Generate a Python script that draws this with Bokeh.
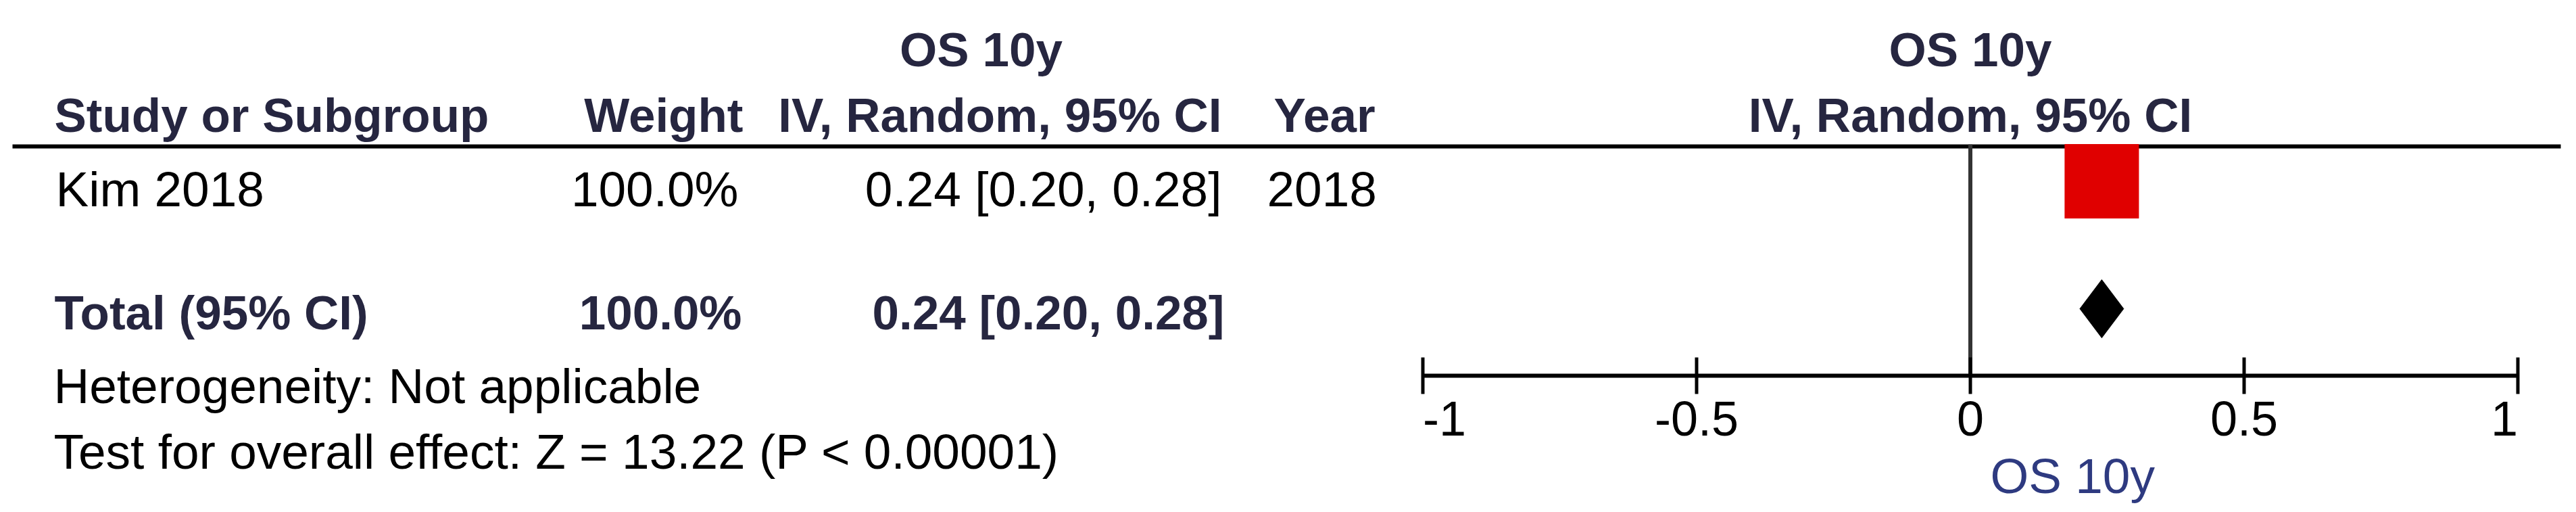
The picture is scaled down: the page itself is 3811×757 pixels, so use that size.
from bokeh.plotting import figure
from bokeh.models import Range1d
from bokeh.core.properties import value
from bokeh.embed import file_html
from bokeh.resources import INLINE

# ---------------- data ----------------
outcome = "OS 10y"
method = "IV, Random, 95% CI"
col_study = "Study or Subgroup"
col_weight = "Weight"
col_year = "Year"

studies = ["Kim 2018"]
weights = ["100.0%"]
est = [0.24]
ci_lo = [0.20]
ci_hi = [0.28]
ci_text = ["0.24 [0.20, 0.28]"]
years = ["2018"]

total_label = "Total (95% CI)"
total_weight = "100.0%"
total_est = 0.24
total_lo = 0.20
total_hi = 0.28
total_text = "0.24 [0.20, 0.28]"

heterogeneity = "Heterogeneity: Not applicable"
overall_effect = "Test for overall effect: Z = 13.22 (P < 0.00001)"

tick_values = [-1, -0.5, 0, 0.5, 1]
tick_labels = ["-1", "-0.5", "0", "0.5", "1"]

# ---------------- layout / style ----------------
FONT = "Liberation Sans"
REG = "73px"
BOLD = "71px"
HEAD_COLOR = "#262640"
TITLE_COLOR = "#2e3a80"
DY = -25  # baseline correction for text rendering

W, H = 3800, 750
px_zero = 2914.5      # screen x of effect 0
px_per_unit = 810.0   # pixels per effect unit
AXIS_Y = 555

p = figure(width=W, height=H, output_backend="svg", toolbar_location=None,
           x_axis_location=None, y_axis_location=None,
           x_range=Range1d(0, W), y_range=Range1d(H, 0),
           min_border_left=0, min_border_right=0, min_border_top=0,
           min_border_bottom=0, outline_line_color=None,
           background_fill_color="white", border_fill_color="white")
p.grid.visible = False
p.extra_x_ranges = {"es": Range1d((0 - px_zero) / px_per_unit,
                                  (W - px_zero) / px_per_unit)}

def txt(xs, ys, texts, align, bold=False, color="black", rng="default", size=None):
    p.text(x=xs, y=[y + DY for y in ys], text=texts, x_range_name=rng,
           text_align=align, text_baseline="alphabetic",
           text_font=value(FONT),
           text_font_size=value(size or (BOLD if bold else REG)),
           text_font_style="bold" if bold else "normal", text_color=color)

# headers
txt([1451], [98], [outcome], "center", True, HEAD_COLOR)
txt([0], [98], [outcome], "center", True, HEAD_COLOR, "es")
txt([80], [195], [col_study], "left", True, HEAD_COLOR)
txt([1099], [195], [col_weight], "right", True, HEAD_COLOR)
txt([1807], [195], [method], "right", True, HEAD_COLOR)
txt([1884], [195], [col_year], "left", True, HEAD_COLOR)
txt([0], [195], [method], "center", True, HEAD_COLOR, "es")

# header rule
p.segment(x0=[18], x1=[3788], y0=[216], y1=[216], line_width=6, line_color="black")

# zero line
p.segment(x0=[0], x1=[0], y0=[213], y1=[AXIS_Y], x_range_name="es",
          line_width=6, line_color="#333333")

# study rows
row_y = [267.5]
text_y = [304]
txt([82] * len(studies), text_y, studies, "left")
txt([1092] * len(studies), text_y, weights, "right")
txt([1807] * len(studies), text_y, ci_text, "right")
txt([1874] * len(studies), text_y, years, "left")
p.segment(x0=ci_lo, x1=ci_hi, y0=row_y, y1=row_y, x_range_name="es",
          line_width=3, line_color="black")
p.scatter(x=est, y=row_y, x_range_name="es", marker="square", size=110,
          fill_color="#E00000", line_color=None)

# total row
txt([80], [487], [total_label], "left", True, HEAD_COLOR)
txt([1097], [487], [total_weight], "right", True, HEAD_COLOR)
txt([1811], [487], [total_text], "right", True, HEAD_COLOR)
dy, dh = 456, 43
p.patch(x=[total_lo, total_est, total_hi, total_est],
        y=[dy, dy - dh, dy, dy + dh], x_range_name="es",
        fill_color="black", line_color="black", line_width=1)

# footer texts
txt([79], [595], [heterogeneity], "left")
txt([79], [692], [overall_effect], "left")

# x axis (effect scale)
p.segment(x0=[tick_values[0]], x1=[tick_values[-1]], y0=[AXIS_Y], y1=[AXIS_Y],
          x_range_name="es", line_width=6, line_color="black")
p.segment(x0=tick_values, x1=tick_values, y0=[AXIS_Y - 27] * len(tick_values),
          y1=[AXIS_Y + 27] * len(tick_values), x_range_name="es",
          line_width=5, line_color="black")
tick_align = ["left", "center", "center", "center", "right"]
for tv, tl, ta in zip(tick_values, tick_labels, tick_align):
    txt([tv], [643], [tl], ta, rng="es", size="72px")

# axis title
txt([2944], [728], [outcome], "left", color=TITLE_COLOR)

open("out.html", "w").write(file_html(p, INLINE))
